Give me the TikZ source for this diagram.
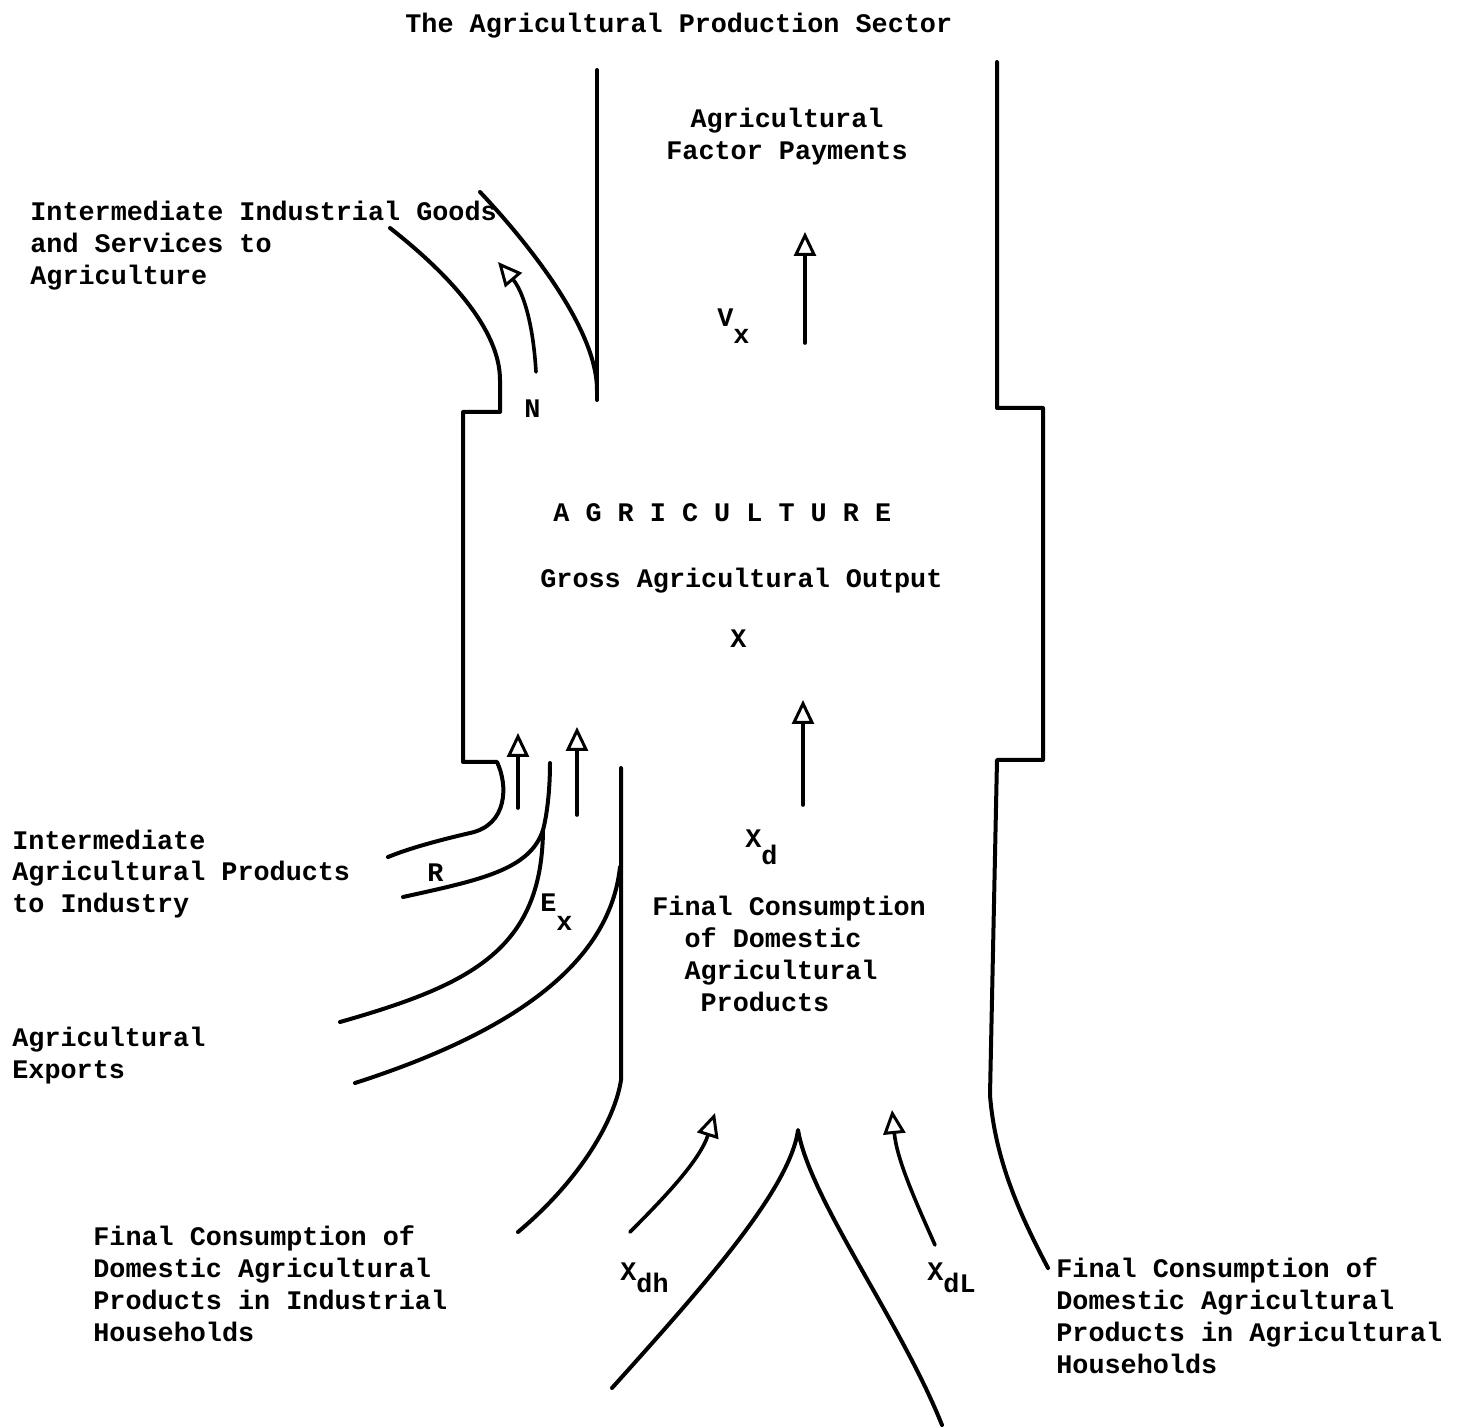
\documentclass[tikz,border=0pt]{standalone}
\usepackage{fontspec}
\setmonofont{Liberation Mono}
\usepackage{tikz}
\usetikzlibrary{arrows.meta}
\newcommand{\typefont}{\ttfamily\bfseries\fontsize{13.4}{16}\selectfont}
\newcommand{\lowr}[2][0.6em]{\raisebox{-#1}{#2}}

\begin{document}
\begin{tikzpicture}[
        x=0.5pt, y=-0.5pt,
        flow/.style = {line width=2pt, line cap=round, line join=round},
        arrow/.style = {line width=1.8pt, line cap=round, -{Triangle[open, length=12pt, width=11pt, line width=1.5pt]}},
        txt/.style = {inner sep=0pt, anchor=base west, align=left, font=\typefont},
        mid/.style = {txt, anchor=base, align=center}
    ]
        \useasboundingbox (0,0) rectangle (1464,1428);

        % Nodes (multi-line texts sit on the baseline of their last line)
        \node [txt] (title) at (405,33) {The Agricultural Production Sector};
        \node [mid] (factorpay) at (787,160) {Agricultural\\Factor Payments};
        \node [txt] (vx) at (717,327) {V\lowr{x}};
        \node [txt] (agri) at (553,522) {A G R I C U L T U R E};
        \node [txt] (gross) at (540,588) {Gross Agricultural Output};
        \node [txt] (xout) at (730,648) {X};
        \node [txt] (xd) at (745,848) {X\lowr{d}};
        \node [txt] (finalcons) at (652,1011) {Final Consumption\\\phantom{xx}of Domestic\\\phantom{xx}Agricultural\\\phantom{xxx}Products};
        \node [txt] (nlab) at (524,418) {N};
        \node [txt] (rlab) at (427,882) {R};
        \node [txt] (exlab) at (540,912) {E\lowr[0.7em]{x}};
        \node [txt] (xdh) at (620,1280) {X\lowr[0.45em]{dh}};
        \node [txt] (xdl) at (927,1280) {X\lowr[0.45em]{dL}};
        \node [txt] (inputs) at (30,285) {Intermediate Industrial Goods\\and Services to\\Agriculture};
        \node [txt] (interag) at (12,913) {Intermediate\\Agricultural Products\\to Industry};
        \node [txt] (exports) at (12,1078) {Agricultural\\Exports};
        \node [txt] (indhh) at (93,1341) {Final Consumption of\\Domestic Agricultural\\Products in Industrial\\Households};
        \node [txt] (aghh) at (1056,1373) {Final Consumption of\\Domestic Agricultural\\Products in Agricultural\\Households};

        % Outline of the sector
        \draw [flow] (597,70) -- (597,400);
        \draw [flow] (480,192) .. controls (530,245) and (597,330) .. (597,390);
        \draw [flow] (390,228) .. controls (450,275) and (500,330) .. (500,380) -- (500,412) -- (463,412) -- (463,762) -- (497,762)
            .. controls (508,785) and (508,825) .. (470,833) .. controls (440,840) and (410,848) .. (388,857);
        \draw [flow] (997,62) -- (997,408) -- (1043,408) -- (1043,760) -- (997,760) -- (990,1095)
            .. controls (995,1160) and (1020,1215) .. (1048,1268);
        \draw [flow] (550,763) .. controls (550,790) and (547,815) .. (543,830) .. controls (530,870) and (480,880) .. (403,897);
        \draw [flow] (543,830) .. controls (542,950) and (470,985) .. (340,1022);
        \draw [flow] (621,768) -- (621,1080) .. controls (615,1120) and (580,1180) .. (518,1232);
        \draw [flow] (620,867) .. controls (610,960) and (520,1030) .. (355,1083);
        \draw [flow] (612,1388) .. controls (700,1290) and (790,1190) .. (798,1130) .. controls (810,1200) and (900,1320) .. (942,1425);

        % Connections
        \coordinate (ntail) at (536,372);   \coordinate (ntip) at (498,262);
        \coordinate (vxtail) at (805,343);  \coordinate (vxtip) at (805,232);
        \coordinate (xtail) at (803,805);   \coordinate (xtip) at (803,700);
        \coordinate (rtail) at (518,808);   \coordinate (rtip) at (518,733);
        \coordinate (extail) at (577,815);  \coordinate (extip) at (577,727);
        \coordinate (xdhtail) at (630,1232); \coordinate (xdhtip) at (715,1113);
        \coordinate (xdltail) at (935,1245); \coordinate (xdltip) at (892,1110);

        \draw [arrow] (ntail) .. controls (533,320) and (522,290) .. (ntip);
        \draw [arrow] (vxtail) -- (vxtip);
        \draw [arrow] (xtail) -- (xtip);
        \draw [arrow] (rtail) -- (rtip);
        \draw [arrow] (extail) -- (extip);
        \draw [arrow] (xdhtail) .. controls (665,1197) and (700,1160) .. (xdhtip);
        \draw [arrow] (xdltail) .. controls (915,1200) and (897,1160) .. (xdltip);
    \end{tikzpicture}
\end{document}
